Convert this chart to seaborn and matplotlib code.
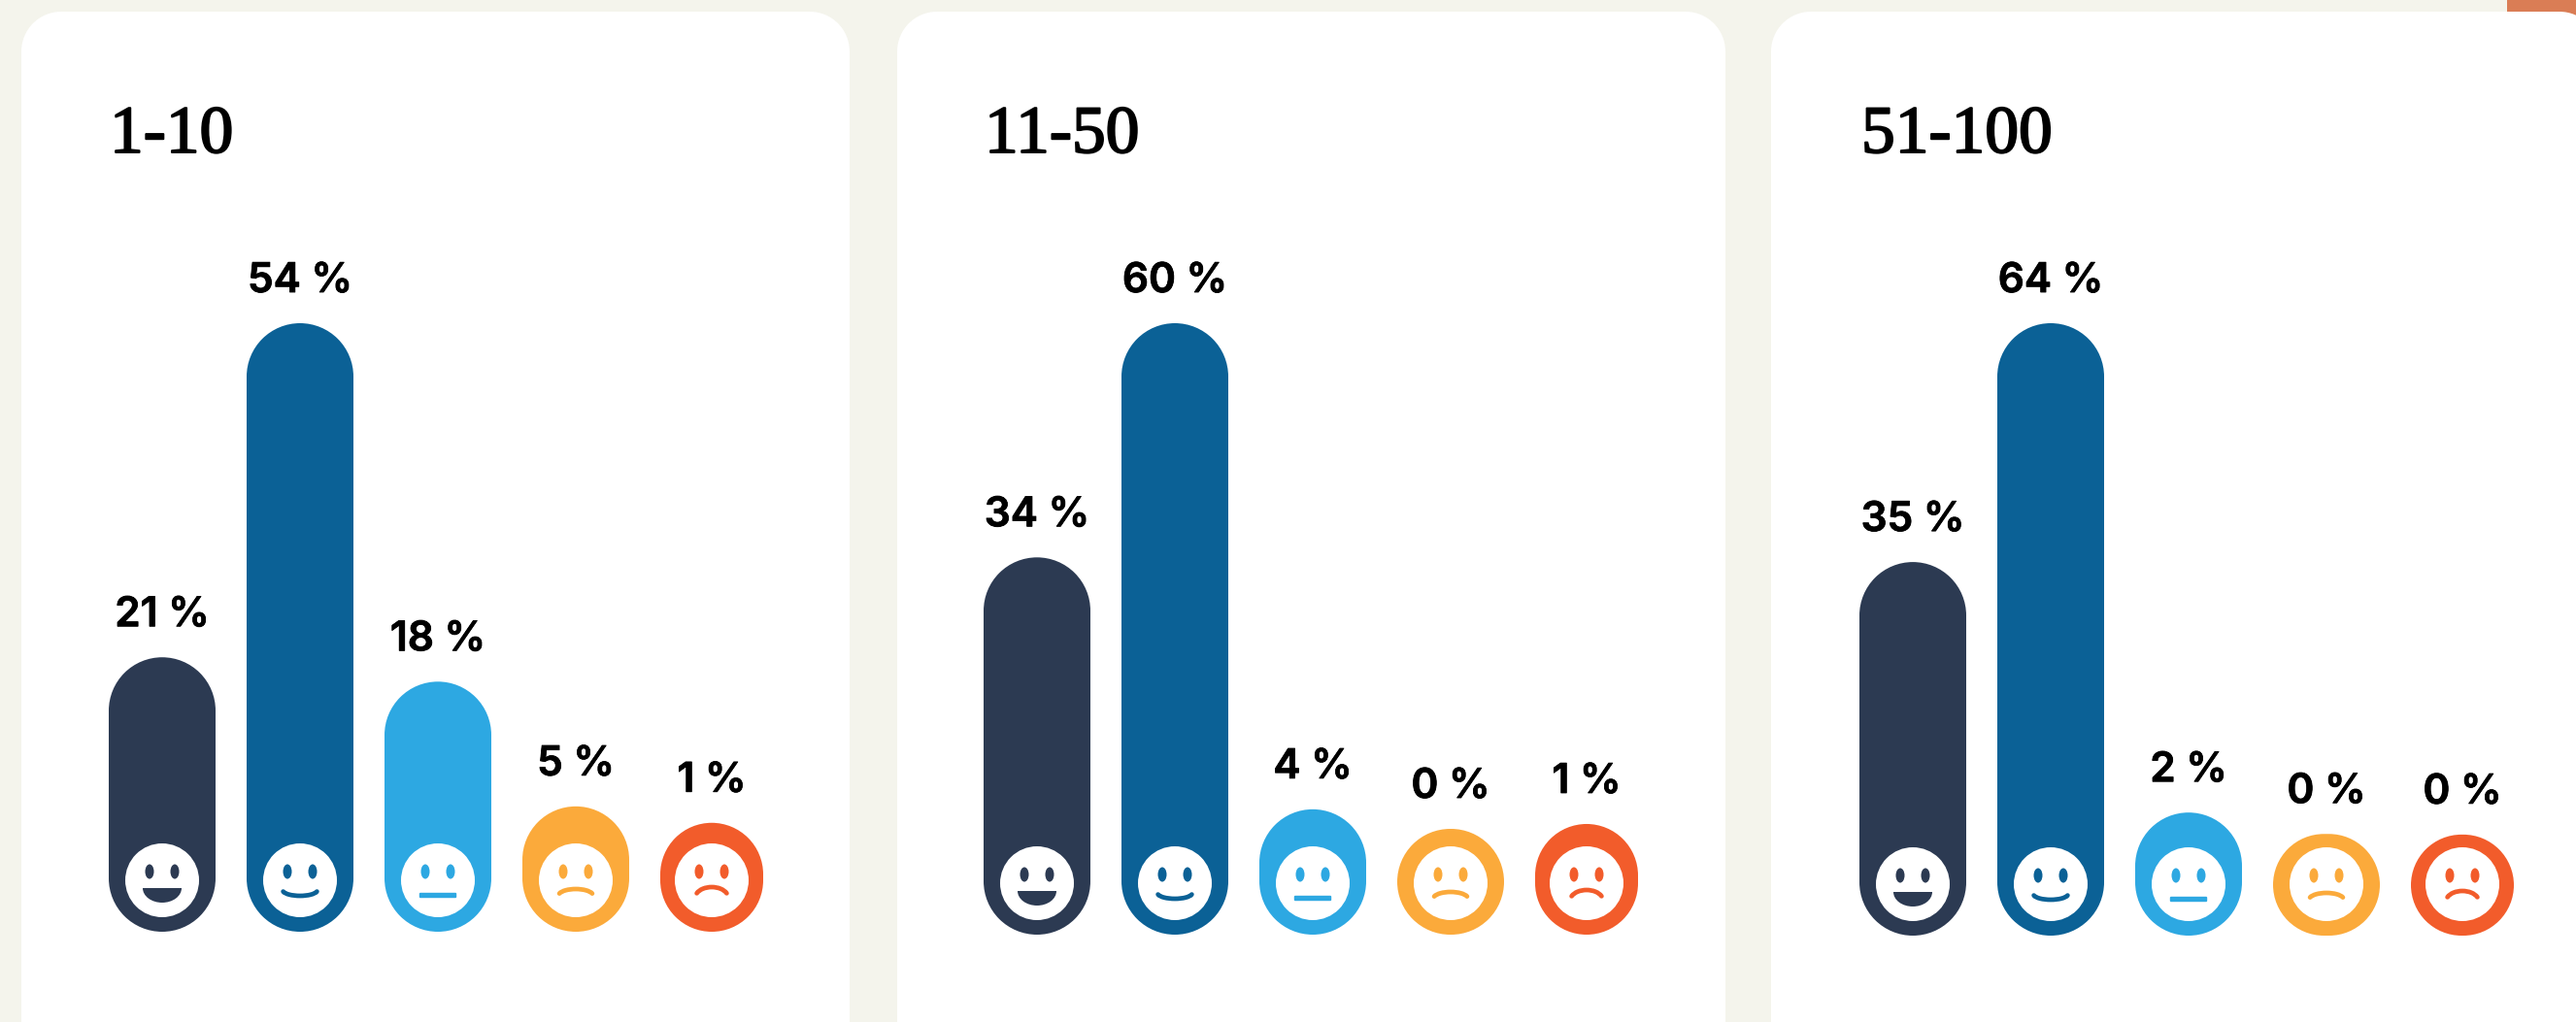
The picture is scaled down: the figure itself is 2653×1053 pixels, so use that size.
import matplotlib
matplotlib.use("Agg")
import matplotlib.pyplot as plt
import matplotlib.patheffects as pe
import numpy as np
import pandas as pd
import seaborn as sns
from matplotlib.patches import Circle, Ellipse, FancyBboxPatch, PathPatch, Rectangle
from matplotlib.path import Path
from matplotlib.transforms import Affine2D

W, H = 2653, 1053

moods = ["delighted", "happy", "neutral", "unhappy", "angry"]
colors = ["#2C3A52", "#0B6196", "#2DA8E2", "#FBAA3B", "#F25C2B"]

titles = ["1-10", "11-50", "51-100"]
# printed percentages
labels_a = [21, 54, 18, 5, 1]
labels_b = [34, 60, 4, 0, 1]
labels_c = [35, 64, 2, 0, 0]
# bar heights, % of the tallest bar in each card
levels_a = [45.1, 100, 41.1, 20.6, 17.9]
levels_b = [61.7, 100, 20.5, 17.3, 18.1]
levels_c = [61.0, 100, 20.1, 16.6, 16.5]

# pixel layout of each card
card_left = [22, 924, 1824]
axes_left = [96, 997, 1899]
bar_bottom = [960, 963, 964]
title_left = [113, 1014, 1917]
CARD_W = 853
BAR_TOP = 333
SLOT = 142
BAR_W = 110
LAST_W = 106


def yy(y):
    return H - y


def pill(radius):
    # boxstyle with truly circular corners, the default "round" one is squarish
    def style(x0, y0, width, height, mutation_size):
        r = min(radius, width / 2, height / 2)
        corners = [(x0 + width - r, y0 + r, -90, 0), (x0 + width - r, y0 + height - r, 0, 90),
                   (x0 + r, y0 + height - r, 90, 180), (x0 + r, y0 + r, 180, 270)]
        verts, codes = [], []
        for cx, cy, t1, t2 in corners:
            a = Path.arc(t1, t2)
            verts.append(a.vertices * r + (cx, cy))
            c = a.codes.copy()
            c[0] = Path.LINETO
            codes.append(c)
        verts = np.concatenate(verts + [verts[0][:1]])
        codes = np.concatenate(codes + [[Path.CLOSEPOLY]])
        codes[0] = Path.MOVETO
        return Path(verts, codes)
    return style


def arc(ov, cx, cy, rx, ry, t1, t2, color):
    path = Path.arc(t1, t2).transformed(Affine2D().scale(rx, ry).translate(cx, yy(cy)))
    ov.add_patch(PathPatch(path, fc="none", ec=color, lw=3.4, capstyle="round"))


def draw_face(ov, mood, cx, cy, color):
    ov.add_patch(Circle((cx, yy(cy)), 38, fc="white", ec="none"))
    for dx in (-13, 13):
        ov.add_patch(Ellipse((cx + dx, yy(cy - 9)), 9, 15, fc=color, ec="none"))
    if mood == "delighted":
        path = Path.arc(180, 360).transformed(Affine2D().scale(20, 15).translate(cx, yy(cy + 8)))
        ov.add_patch(PathPatch(path, fc=color, ec="none"))
    elif mood == "happy":
        arc(ov, cx, cy + 10, 18, 6, 195, 345, color)
    elif mood == "neutral":
        ov.add_patch(FancyBboxPatch((cx - 18, yy(cy + 17)), 36, 3, boxstyle="round,pad=1.2", fc=color, ec="none"))
    elif mood == "unhappy":
        arc(ov, cx, cy + 16, 18, 7, 20, 160, color)
    else:
        arc(ov, cx, cy + 18, 17, 11, 25, 155, color)


sns.set_theme(style="white")
plt.rcParams["font.family"] = ["Inter", "DejaVu Sans"]

fig = plt.figure(figsize=(W / 100, H / 100), dpi=100, facecolor="#F4F4EC")

bg = fig.add_axes([0, 0, 1, 1], zorder=0)
bg.set_xlim(0, W)
bg.set_ylim(0, H)
bg.set_axis_off()
bg.add_patch(Rectangle((2582, yy(16)), 80, 16, fc="#DA7D55", ec="none"))
for left in card_left:
    bg.add_patch(FancyBboxPatch((left, -100), CARD_W, yy(12) + 100, boxstyle=pill(41),
                                fc="white", ec="none"))

overlay = fig.add_axes([0, 0, 1, 1], zorder=5)
overlay.set_xlim(0, W)
overlay.set_ylim(0, H)
overlay.set_axis_off()

panels = [(labels_a, levels_a), (labels_b, levels_b), (labels_c, levels_c)]
for i, (labels, levels) in enumerate(panels):
    h_px = bar_bottom[i] - BAR_TOP
    w_px = SLOT * 5
    ax = fig.add_axes([axes_left[i] / W, yy(bar_bottom[i]) / H, w_px / W, h_px / H], zorder=2)
    df = pd.DataFrame({"mood": moods, "level": levels, "label": labels})
    sns.barplot(data=df, x="mood", y="level", hue="mood", order=moods, hue_order=moods,
                palette=colors, width=BAR_W / SLOT, legend=False, ax=ax)
    ax.set_xlim(-0.5, 4.5)
    ax.set_ylim(0, 100)
    ax.set_axis_off()

    x_unit = 5 / w_px
    y_unit = 100 / h_px
    for j, bar in enumerate(list(ax.patches)[:5]):
        x0 = bar.get_x()
        width = bar.get_width() if j < 4 else LAST_W * x_unit
        height = bar.get_height()
        bar.set_visible(False)
        r_px = min(width / x_unit, height / y_unit) / 2
        ax.add_patch(FancyBboxPatch((x0, 0), width, height,
                                    boxstyle=pill(r_px * x_unit),
                                    mutation_aspect=y_unit / x_unit,
                                    fc=colors[j], ec="none", clip_on=False))
        xc = x0 + width / 2
        ax.annotate(f"{labels[j]} %", xy=(xc, height), xytext=(0, 32), textcoords="offset pixels",
                    ha="center", va="baseline", fontsize=30.5, fontweight=600, color="black",
                    annotation_clip=False,
                    path_effects=[pe.withStroke(linewidth=0.6, foreground="black")])
        cx = axes_left[i] + (xc + 0.5) / x_unit
        draw_face(overlay, moods[j], cx, bar_bottom[i] - 53, colors[j])

    overlay.text(title_left[i], yy(157), titles[i], family=["Liberation Serif"], fontsize=50,
                 color="black", ha="left", va="baseline",
                 path_effects=[pe.withStroke(linewidth=1.4, foreground="black")])

fig.savefig("out.png", dpi=100, facecolor=fig.get_facecolor())
